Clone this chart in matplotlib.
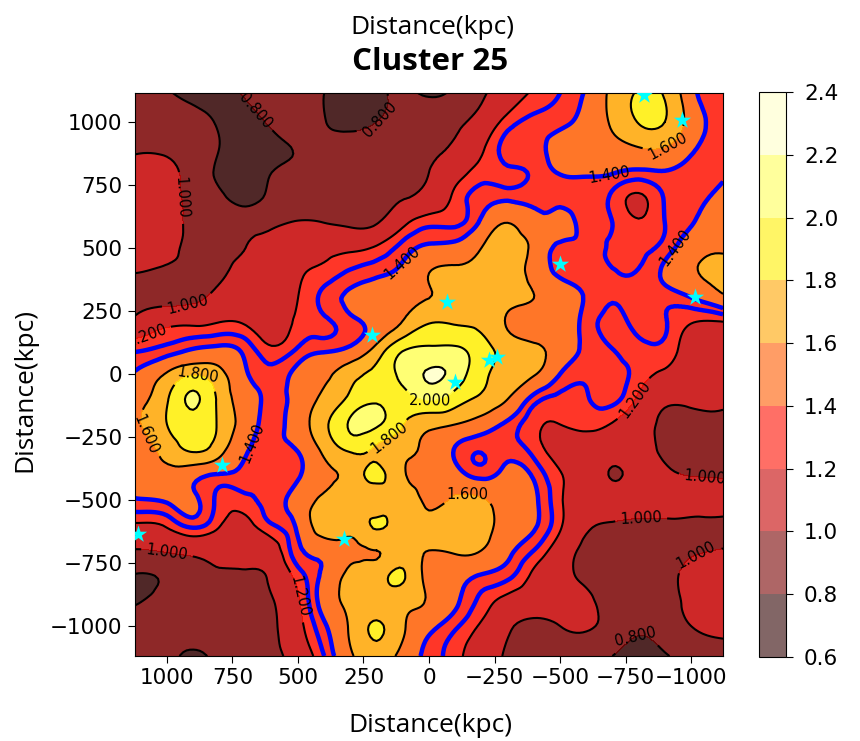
import numpy as np
import matplotlib
matplotlib.use('Agg')
import matplotlib.pyplot as plt
import matplotlib.tri as mtri

# grid positions (kpc)
x_grid = [1122, 1000, 900, 800, 700, 600, 500, 400, 300, 200, 100, 0, -100, -200, -300, -400, -500, -600, -700, -800, -900, -1000, -1122]
y_grid = [1115, 1000, 900, 800, 700, 600, 500, 400, 300, 200, 100, 0, -100, -200, -300, -400, -500, -600, -700, -800, -900, -1000, -1119]

# field values, one list per y_grid row
density = [
 [0.92,0.82,0.74,0.74,0.82,0.88,0.86,0.80,0.74,0.75,0.84,0.77,0.84,0.97,1.10,1.22,1.30,1.42,1.65,1.82,1.78,1.46,1.33],
 [0.93,0.92,0.87,0.78,0.74,0.84,0.92,0.81,0.75,0.80,0.88,0.93,0.97,1.07,1.25,1.33,1.37,1.46,1.63,1.81,1.80,1.52,1.34],
 [0.97,0.97,0.92,0.80,0.72,0.74,0.82,0.86,0.88,0.90,0.93,0.97,1.02,1.17,1.34,1.37,1.45,1.49,1.54,1.60,1.60,1.44,1.33],
 [1.08,1.05,0.92,0.77,0.72,0.80,0.85,0.88,0.90,0.92,0.95,1.00,1.13,1.25,1.28,1.32,1.41,1.42,1.41,1.37,1.39,1.34,1.37],
 [1.10,1.08,0.94,0.84,0.74,0.85,0.92,0.92,0.92,0.94,0.99,1.07,1.23,1.35,1.37,1.37,1.36,1.33,1.28,1.18,1.31,1.36,1.47],
 [1.10,1.07,0.96,0.92,0.93,0.97,1.01,1.00,0.97,0.99,1.16,1.27,1.28,1.43,1.60,1.46,1.45,1.35,1.30,1.22,1.30,1.39,1.55],
 [1.10,1.05,0.96,0.96,1.00,1.05,1.12,1.15,1.17,1.22,1.34,1.43,1.46,1.60,1.70,1.55,1.37,1.36,1.28,1.27,1.34,1.50,1.58],
 [1.00,0.96,0.96,0.98,1.05,1.10,1.18,1.24,1.32,1.37,1.46,1.60,1.65,1.66,1.70,1.53,1.38,1.36,1.31,1.31,1.43,1.57,1.66],
 [0.93,0.94,0.97,1.05,1.10,1.14,1.20,1.33,1.43,1.50,1.58,1.60,1.70,1.72,1.67,1.60,1.47,1.39,1.31,1.34,1.33,1.39,1.55],
 [1.06,1.17,1.18,1.21,1.19,1.12,1.23,1.28,1.36,1.44,1.62,1.80,1.79,1.75,1.58,1.50,1.47,1.36,1.27,1.33,1.31,1.20,1.18],
 [1.28,1.33,1.40,1.43,1.36,1.22,1.31,1.37,1.43,1.66,1.97,2.03,2.03,1.88,1.72,1.65,1.50,1.37,1.30,1.28,1.27,1.13,1.12],
 [1.42,1.62,1.78,1.66,1.42,1.33,1.44,1.55,1.72,1.86,2.06,2.22,2.12,1.86,1.72,1.62,1.40,1.32,1.34,1.26,1.17,1.12,1.10],
 [1.55,1.78,2.03,1.75,1.50,1.36,1.47,1.65,1.85,1.97,1.94,2.02,1.90,1.76,1.60,1.35,1.27,1.29,1.33,1.17,1.03,1.03,1.03],
 [1.56,1.80,1.93,1.77,1.50,1.36,1.50,1.75,2.03,2.03,1.81,1.65,1.60,1.50,1.37,1.23,1.20,1.23,1.19,1.08,0.97,0.95,0.95],
 [1.50,1.68,1.83,1.68,1.42,1.36,1.41,1.65,1.83,1.77,1.66,1.55,1.39,1.31,1.35,1.26,1.15,1.12,1.08,1.05,0.97,0.90,0.88],
 [1.47,1.54,1.46,1.39,1.36,1.31,1.38,1.55,1.68,1.84,1.63,1.55,1.47,1.36,1.45,1.38,1.21,1.12,0.99,1.06,1.04,0.99,0.97],
 [1.39,1.42,1.43,1.27,1.27,1.35,1.46,1.65,1.66,1.70,1.68,1.57,1.63,1.62,1.52,1.43,1.22,1.10,1.07,1.07,1.06,1.07,1.08],
 [1.18,1.22,1.33,1.21,1.16,1.29,1.43,1.72,1.68,1.82,1.70,1.65,1.72,1.68,1.52,1.42,1.22,1.03,0.98,0.97,0.97,0.96,0.96],
 [0.99,1.02,1.05,1.07,1.09,1.12,1.37,1.47,1.55,1.60,1.68,1.60,1.63,1.60,1.44,1.30,1.11,0.96,0.90,0.90,0.92,0.97,1.01],
 [0.79,0.83,0.93,0.98,0.97,1.03,1.25,1.44,1.65,1.72,1.82,1.52,1.45,1.39,1.33,1.17,1.05,0.97,0.90,0.85,0.93,1.05,1.12],
 [0.78,0.86,0.90,0.93,0.93,0.99,1.18,1.47,1.66,1.72,1.68,1.58,1.43,1.27,1.15,1.09,1.06,1.03,0.93,0.90,0.93,1.05,1.14],
 [0.88,0.86,0.88,0.90,0.91,0.97,1.15,1.38,1.63,1.82,1.63,1.45,1.32,1.18,1.03,0.96,1.00,1.02,0.93,0.84,0.90,1.00,1.05],
 [0.93,0.86,0.76,0.86,0.92,0.96,1.08,1.30,1.57,1.70,1.53,1.36,1.24,1.10,0.98,0.92,0.90,0.88,0.80,0.72,0.78,0.88,0.93],
]

levels = [0.6, 0.8, 1.0, 1.2, 1.4, 1.6, 1.8, 2.0, 2.2, 2.4]
blue_levels = [1.3, 1.4]
star_x = [-820, -965, -500, -69, -1015, 218, -260, -229, -99, 790, 1110, 324]
star_y = [1107, 1008, 437, 286, 305, 155, 67, 56, -32, -361, -635, -655]
label_x = [672, 187, 947, 927, 1065, 118, -927, -920, -691, 885, 1073, -4, 149, 702, -145, 504, 1000, -775, -1053, -809, -1015, -782]
label_y = [1036, 1008, 698, 317, 123, 456, 512, 889, 782, -12, -234, -107, -262, -262, -480, -885, -710, -95, -369, -548, -706, -1032]
x_ticks = [1000, 750, 500, 250, 0, -250, -500, -750, -1000]
y_ticks = [-1000, -750, -500, -250, 0, 250, 500, 750, 1000]

plt.rcParams['font.family'] = 'DejaVu Sans'
LABEL_FONT = 'Open Sans'

fig = plt.figure(figsize=(8.6, 7.41), dpi=100)
ax = fig.add_axes([135/860, 1-656/741, (723-135)/860, (656-93)/741])
cax = fig.add_axes([759/860, 1-657/741, 27/860, 565/741])

X, Y = np.meshgrid(np.array(x_grid, float), np.array(y_grid, float))
Z = np.array(density)
tri = mtri.Triangulation(X.ravel(), Y.ravel())
refiner = mtri.UniformTriRefiner(tri)
tri_f, z_f = refiner.refine_field(Z.ravel(), subdiv=3)

ax.set_xlim(1122, -1122)
ax.set_ylim(-1119, 1115)

cf = ax.tricontourf(tri_f, z_f, levels=levels, cmap='hot', alpha=0.6)
ax.tricontourf(tri_f, z_f, levels=levels, cmap='hot', alpha=0.6)
cs = ax.tricontour(tri_f, z_f, levels=levels, colors='black', linewidths=1.5, zorder=2)
ax.tricontour(tri_f, z_f, levels=blue_levels, colors='blue', linewidths=3.2, zorder=2.5)
ax.clabel(cs, fmt='%.3f', fontsize=10.5, inline=True, manual=list(zip(label_x, label_y)))
ax.scatter(star_x, star_y, marker='*', s=170, color='cyan', zorder=6, linewidths=0)

ax.set_xlim(1122, -1122)
ax.set_ylim(-1119, 1115)
ax.set_xticks(x_ticks)
ax.set_yticks(y_ticks)
ax.tick_params(labelsize=15.5, length=5, pad=4)
fig.text((348+512)/2/860, 1-726/741, 'Distance(kpc)', fontsize=19, family=LABEL_FONT, ha='center', va='center')
fig.text(25/860, 1-390/741, 'Distance(kpc)', fontsize=19, family=LABEL_FONT, ha='center', va='center', rotation=90)
fig.text(430/860, 1-62/741, 'Cluster 25', fontsize=22.5, fontweight='bold', family=LABEL_FONT, ha='center', va='center')
fig.text((349+515)/2/860, 1-28/741, 'Distance(kpc)', fontsize=19, family=LABEL_FONT, ha='center', va='center')

cb = fig.colorbar(cf, cax=cax, ticks=levels)
cb.ax.tick_params(labelsize=15.5, length=5, pad=8)
cb.ax.set_yticklabels(['%.1f' % v for v in levels])

fig.savefig('out.png', dpi=100)
